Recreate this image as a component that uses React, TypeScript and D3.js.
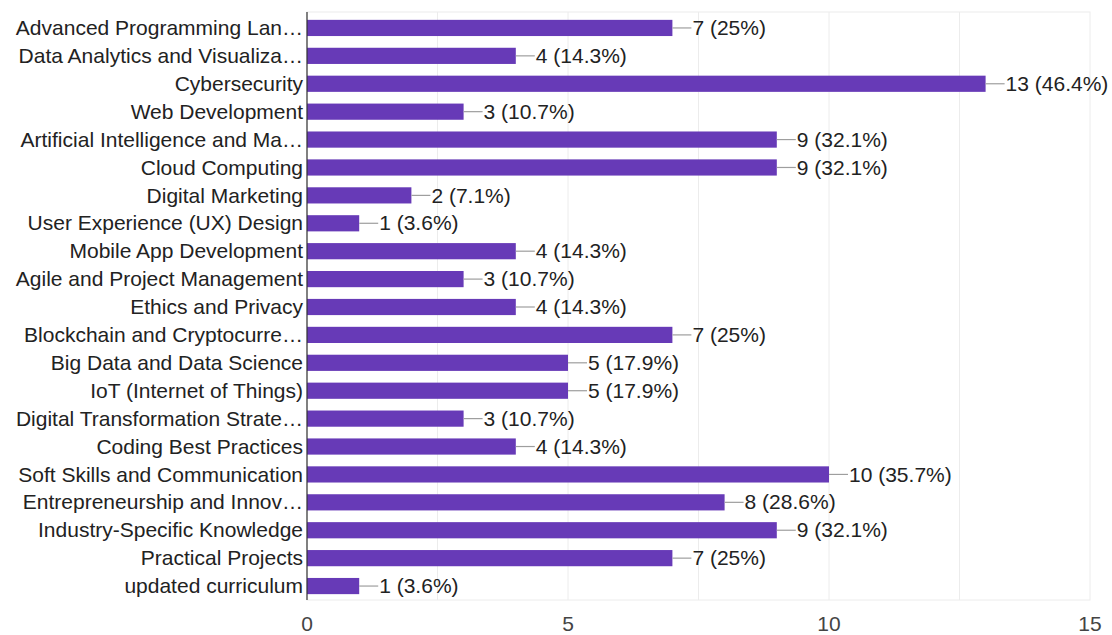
import React from "react";
import * as d3 from "d3";

const categories = [
  "Advanced Programming Lan…",
  "Data Analytics and Visualiza…",
  "Cybersecurity",
  "Web Development",
  "Artificial Intelligence and Ma…",
  "Cloud Computing",
  "Digital Marketing",
  "User Experience (UX) Design",
  "Mobile App Development",
  "Agile and Project Management",
  "Ethics and Privacy",
  "Blockchain and Cryptocurre…",
  "Big Data and Data Science",
  "IoT (Internet of Things)",
  "Digital Transformation Strate…",
  "Coding Best Practices",
  "Soft Skills and Communication",
  "Entrepreneurship and Innov…",
  "Industry-Specific Knowledge",
  "Practical Projects",
  "updated curriculum",
];
const values = [7, 4, 13, 3, 9, 9, 2, 1, 4, 3, 4, 7, 5, 5, 3, 4, 10, 8, 9, 7, 1];
const percents = ["25%", "14.3%", "46.4%", "10.7%", "32.1%", "32.1%", "7.1%", "3.6%", "14.3%", "10.7%", "14.3%", "25%", "17.9%", "17.9%", "10.7%", "14.3%", "35.7%", "28.6%", "32.1%", "25%", "3.6%"];
const xTicks = [0, 5, 10, 15];
const gridTicks = [2.5, 5, 7.5, 10, 12.5];

const W = 1112;
const H = 635;
const left = 307;
const right = 1090;
const top = 12;
const bottom = 600;

export default function App() {
  const x = d3.scaleLinear().domain([0, 15]).range([left, right]);
  const y = d3.scaleBand<number>().domain(d3.range(categories.length)).range([top + 2, bottom]).paddingInner(0.42).paddingOuter(0.21);
  const font = "Helvetica, Arial, 'Liberation Sans', sans-serif";
  const fs = 21;
  return (
    <svg width={W} height={H} style={{ position: "absolute", left: 0, top: 0, background: "#fff" }}>
      <rect x={left} y={top} width={right - left} height={bottom - top} fill="none" stroke="#ececec" strokeWidth={1} />
      {gridTicks.map((t) => (
        <line key={t} x1={x(t)} x2={x(t)} y1={top} y2={bottom} stroke="#ececec" strokeWidth={1} />
      ))}
      {values.map((v, i) => {
        const yc = (y(i) as number) + y.bandwidth() / 2;
        return (
          <g key={i}>
            <rect x={x(0)} y={y(i)} width={x(v) - x(0)} height={y.bandwidth()} fill="#673ab7" />
            <line x1={x(v)} x2={x(v) + 19} y1={yc} y2={yc} stroke="#9e9e9e" strokeWidth={1.2} />
            <text x={x(v) + 20} y={yc} dy="0.34em" fontSize={fs} fill="#222" fontFamily={font}>
              {`${v} (${percents[i]})`}
            </text>
            <text x={left - 4} y={yc} dy="0.34em" textAnchor="end" fontSize={fs} fill="#222" fontFamily={font}>
              {categories[i]}
            </text>
          </g>
        );
      })}
      <line x1={left} x2={left} y1={top} y2={bottom} stroke="#333" strokeWidth={1.2} />
      {xTicks.map((t) => (
        <text key={t} x={x(t)} y={623} dy="0.36em" textAnchor="middle" fontSize={fs} fill="#444" fontFamily={font}>
          {t}
        </text>
      ))}
    </svg>
  );
}
